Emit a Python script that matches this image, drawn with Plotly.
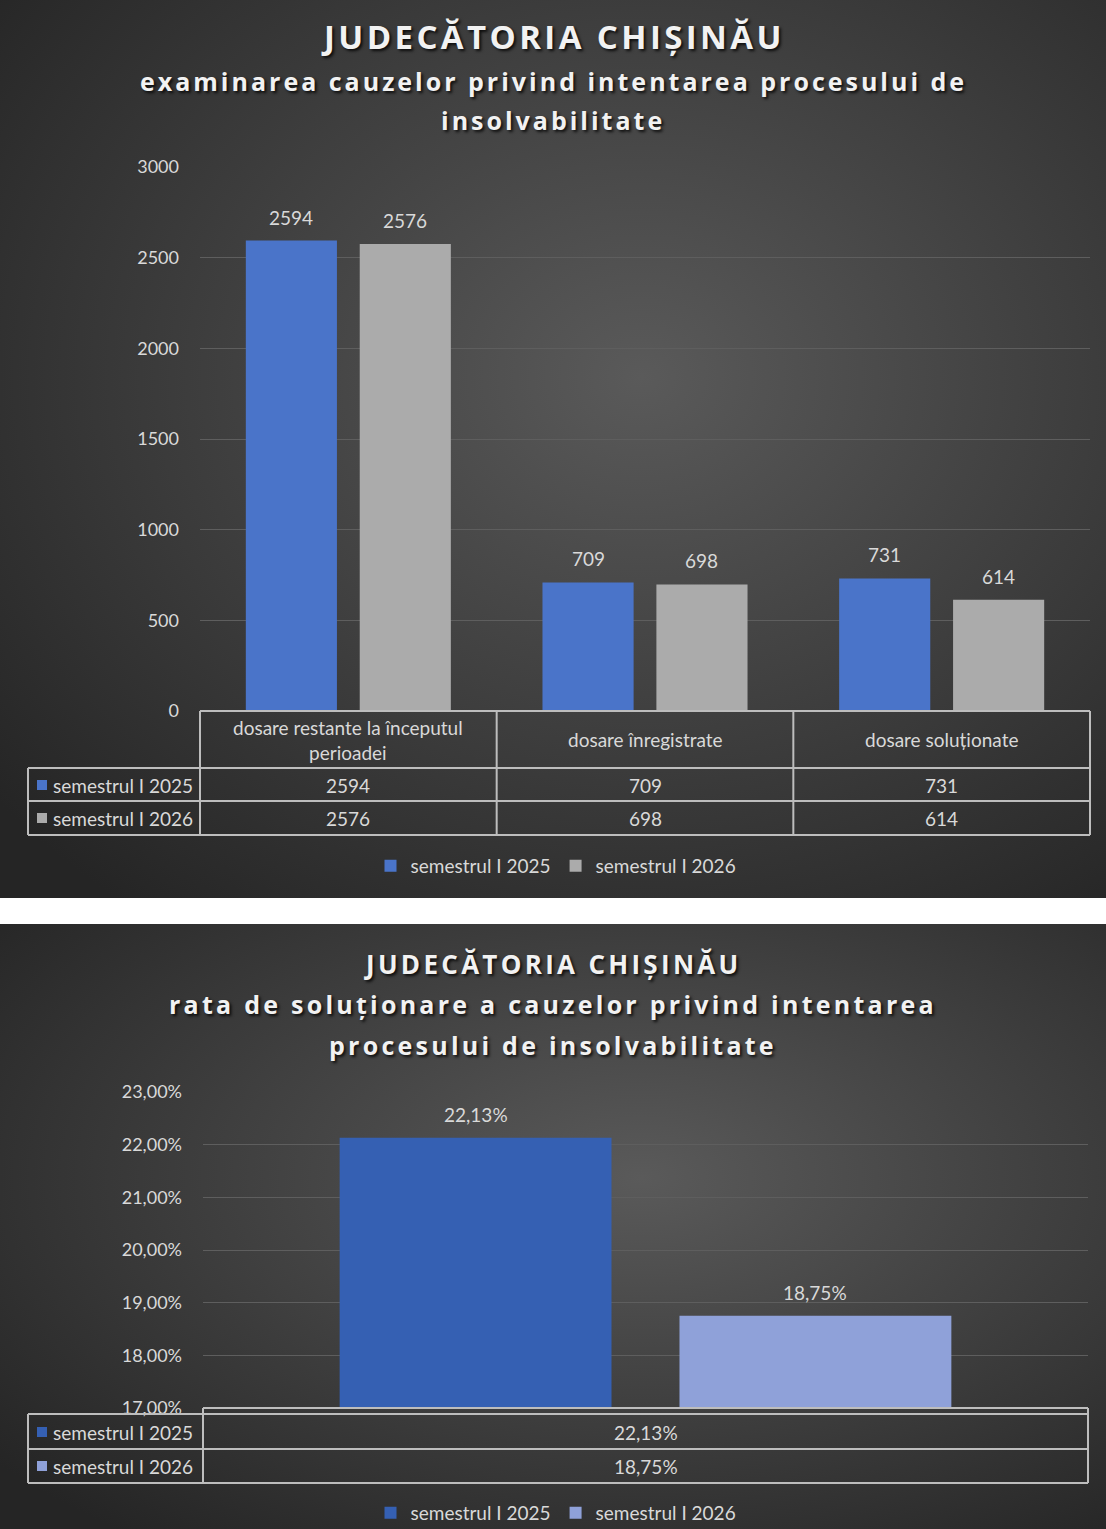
import base64
import plotly.graph_objects as go

W, H = 1106, 1529

# ---- data ----
categories = ["dosare restante la începutul perioadei", "dosare înregistrate", "dosare soluționate"]
header_labels = ["dosare restante la începutul<br>perioadei", "dosare înregistrate", "dosare soluționate"]
series_names = ["semestrul I 2025", "semestrul I 2026"]
values_2025 = [2594, 709, 731]
values_2026 = [2576, 698, 614]

rate_category = ["rata de soluționare"]
rate_2025 = [22.13]
rate_2026 = [18.75]

top_colors = ["#4a74c9", "#ababab"]
bottom_colors = ["#3560b3", "#8fa1d9"]

TXT = "#d9d9d9"
LINE = "#bdbdbd"
FONT = "Lato"
FS = 19
BARGAP = 0.232


def px_x(x):
    return x / W


def px_y(y):
    return 1 - y / H


def pct(v):
    return f"{v:.2f}%".replace(".", ",")


def gradient_bg(w, h):
    svg = (f"<svg xmlns='http://www.w3.org/2000/svg' width='{w}' height='{h}'>"
           "<defs><radialGradient id='g' cx='0.58' cy='0.42' r='0.75'>"
           "<stop offset='0' stop-color='#5a5a5a'/><stop offset='1' stop-color='#252525'/>"
           "</radialGradient></defs>"
           f"<rect width='{w}' height='{h}' fill='url(#g)'/></svg>")
    return "data:image/svg+xml;base64," + base64.b64encode(svg.encode()).decode()


fig = go.Figure()

# ---- top chart: bars ----
for name, vals, col in zip(series_names, [values_2025, values_2026], top_colors):
    fig.add_trace(go.Bar(x=categories, y=vals, name=name, marker_color=col,
                         marker_line_width=0, xaxis="x", yaxis="y", legend="legend"))

# ---- bottom chart: bars ----
for name, vals, col in zip(series_names, [rate_2025, rate_2026], bottom_colors):
    fig.add_trace(go.Bar(x=rate_category, y=vals, name=name, marker_color=col,
                         marker_line_width=0, xaxis="x2", yaxis="y2", legend="legend2"))

shapes = []
annotations = []

# value labels above the bars (offset to each bar of the group)
half_slot = (1 - BARGAP) / 4
for xr, yr, cats, series, fmt in (("x", "y", categories, [values_2025, values_2026], str),
                                  ("x2", "y2", rate_category, [rate_2025, rate_2026], pct)):
    for j, vals in enumerate(series):
        for i, v in enumerate(vals):
            annotations.append(dict(xref=xr, yref=yr, x=i + (2 * j - 1) * half_slot, y=v,
                                    text=fmt(v), showarrow=False, yanchor="bottom", yshift=10,
                                    font=dict(size=FS, color=TXT, family=FONT)))


def hline(y, x0, x1):
    shapes.append(dict(type="line", xref="paper", yref="paper", x0=px_x(x0), x1=px_x(x1),
                       y0=px_y(y), y1=px_y(y), line=dict(color=LINE, width=2)))


def vline(x, y0, y1, xref="paper"):
    xv = px_x(x) if xref == "paper" else x
    shapes.append(dict(type="line", xref=xref, yref="paper", x0=xv, x1=xv,
                       y0=px_y(y0), y1=px_y(y1), line=dict(color=LINE, width=2)))


def legend_cell(y, name, col):
    # small colour key + series name in the left column of the data table
    shapes.append(dict(type="rect", xref="paper", yref="paper", x0=px_x(37), x1=px_x(47),
                       y0=px_y(y + 5), y1=px_y(y - 5), fillcolor=col, line_width=0))
    annotations.append(dict(
        xref="paper", yref="paper", x=px_x(51), y=px_y(y), xanchor="left", yanchor="middle",
        showarrow=False, font=dict(size=FS, color=TXT, family=FONT), text=name))


# ---- top data table ----
hline(711, 200, 1090)
for y in (768, 801, 835):
    hline(y, 28, 1090)
vline(28, 768, 835)
vline(200, 711, 835)
vline(1090, 711, 835)
for i in range(1, len(categories)):
    vline(i - 0.5, 711, 835, xref="x")

for cat, lab in zip(categories, header_labels):
    annotations.append(dict(xref="x", yref="paper", x=cat, y=px_y(740), showarrow=False,
                            text=lab, font=dict(size=FS, color=TXT, family=FONT),
                            yanchor="middle"))
for row_y, vals in zip((785, 818), (values_2025, values_2026)):
    for cat, v in zip(categories, vals):
        annotations.append(dict(xref="x", yref="paper", x=cat, y=px_y(row_y), showarrow=False,
                                text=str(v), font=dict(size=FS, color=TXT, family=FONT),
                                yanchor="middle"))
for row_y, name, col in zip((785, 818), series_names, top_colors):
    legend_cell(row_y, name, col)

# ---- bottom data table ----
hline(1408, 203, 1088)
for y in (1414, 1449, 1483):
    hline(y, 28, 1088)
vline(28, 1414, 1483)
vline(203, 1408, 1483)
vline(1088, 1408, 1483)
for row_y, vals in zip((1432, 1466), (rate_2025, rate_2026)):
    annotations.append(dict(xref="x2", yref="paper", x=rate_category[0], y=px_y(row_y),
                            showarrow=False, text=pct(vals[0]),
                            font=dict(size=FS, color=TXT, family=FONT), yanchor="middle"))
for row_y, name, col in zip((1432, 1466), series_names, bottom_colors):
    legend_cell(row_y, name, col)

# ---- titles ----
title_font = dict(family="Open Sans", color="#f2f2f2", weight="bold",
                  shadow="2px 2px 3px rgba(0,0,0,0.8)")
titles = [
    ("JUDECĂTORIA CHIȘINĂU", 36, 33, 3.4),
    ("examinarea cauzelor privind intentarea procesului de", 81, 25, 3.0),
    ("insolvabilitate", 120, 25, 3.0),
    ("JUDECĂTORIA CHIȘINĂU", 964, 26, 3.3),
    ("rata de soluționare a cauzelor privind intentarea", 1004, 25, 3.25),
    ("procesului de insolvabilitate", 1045, 25, 3.25),
]
for text, y, size, spacing in titles:
    annotations.append(dict(xref="paper", yref="paper", x=0.5, y=px_y(y), showarrow=False,
                            text=f"<span style='letter-spacing:{spacing}px'>{text}</span>",
                            yanchor="middle", font=dict(title_font, size=size)))

legend_style = dict(orientation="h", xanchor="center", yanchor="middle", x=px_x(556),
                    font=dict(size=FS, color=TXT, family=FONT), bgcolor="rgba(0,0,0,0)",
                    itemwidth=30, traceorder="normal")

axis_x = dict(type="category", showticklabels=False, showgrid=False, showline=False,
              zeroline=False, automargin=False)
axis_y = dict(gridcolor="#5e5e5e", gridwidth=1, zeroline=False, showline=False,
              tickfont=dict(size=18, color=TXT, family=FONT), ticklabelstandoff=20,
              automargin=False)

fig.update_layout(
    width=W, height=H, margin=dict(l=0, r=0, t=0, b=0, autoexpand=False),
    paper_bgcolor="white", plot_bgcolor="rgba(0,0,0,0)",
    separators=",.",
    barmode="group", bargap=BARGAP, bargroupgap=0.2,
    font=dict(family=FONT, color=TXT),
    xaxis=dict(axis_x, domain=[px_x(200), px_x(1090)], anchor="y"),
    yaxis=dict(axis_y, domain=[px_y(711), px_y(167)], anchor="x", range=[0, 3000], dtick=500),
    xaxis2=dict(axis_x, domain=[px_x(203), px_x(1088)], anchor="y2"),
    yaxis2=dict(axis_y, domain=[px_y(1408), px_y(1092)], anchor="x2", range=[17, 23],
                dtick=1, tickformat=".2f", ticksuffix="%"),
    legend=dict(legend_style, y=px_y(866)),
    legend2=dict(legend_style, y=px_y(1513)),
    shapes=shapes,
    annotations=annotations,
    images=[
        dict(source=gradient_bg(W, 898), xref="paper", yref="paper", x=0, y=1,
             sizex=1, sizey=898 / H, sizing="stretch", layer="below",
             xanchor="left", yanchor="top"),
        dict(source=gradient_bg(W, 605), xref="paper", yref="paper", x=0, y=px_y(924),
             sizex=1, sizey=605 / H, sizing="stretch", layer="below",
             xanchor="left", yanchor="top"),
    ],
)

# drop the default page margin so the graph fills the window exactly
pin = ("document.body.style.margin='0';document.body.style.overflow='hidden';"
       "document.documentElement.style.overflow='hidden';")

fig.write_html("out.html", config={"displayModeBar": False}, post_script=pin)
